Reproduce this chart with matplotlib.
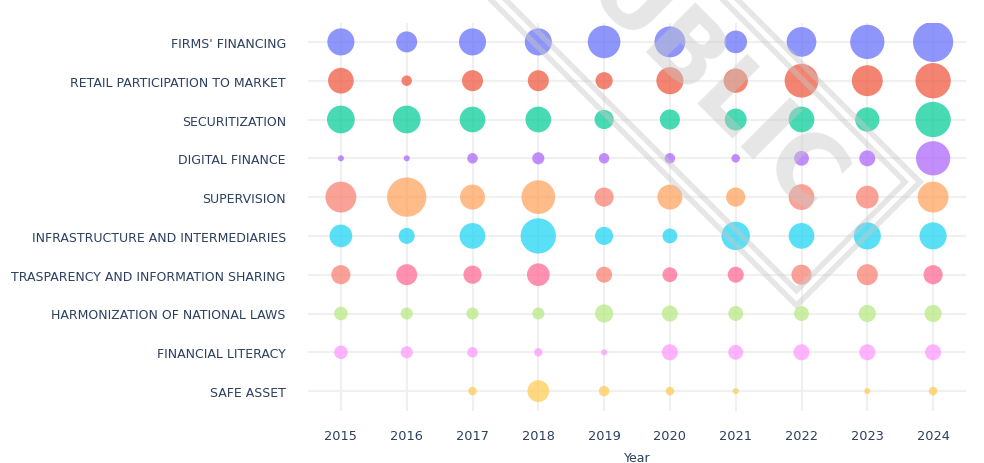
import matplotlib
matplotlib.use("Agg")
import matplotlib.pyplot as plt
import numpy as np
from matplotlib.lines import Line2D

years = [2015, 2016, 2017, 2018, 2019, 2020, 2021, 2022, 2023, 2024]
categories = [
    "FIRMS' FINANCING",
    "RETAIL PARTICIPATION TO MARKET",
    "SECURITIZATION",
    "DIGITAL FINANCE",
    "SUPERVISION",
    "INFRASTRUCTURE AND INTERMEDIARIES",
    "TRASPARENCY AND INFORMATION SHARING",
    "HARMONIZATION OF NATIONAL LAWS",
    "FINANCIAL LITERACY",
    "SAFE ASSET",
]

firms_financing = [20, 12, 20, 20, 29, 26, 14, 24, 32, 44]
retail_participation = [18, 3, 12, 12, 8, 20, 16, 31, 26, 34]
securitization = [21, 21, 18, 18, 10, 11, 13, 18, 16, 34]
digital_finance = [1, 1, 3, 4, 3, 3, 2, 6, 7, 32]
supervision = [26, 42, 17, 31, 10, 17, 10, 18, 14, 26]
infrastructure = [14, 7, 18, 34, 9, 6, 22, 18, 20, 20]
trasparency = [10, 12, 9, 14, 7, 6, 7, 11, 12, 10]
harmonization = [5, 4, 4, 4, 9, 7, 6, 6, 8, 8]
financial_literacy = [5, 4, 3, 2, 1, 7, 6, 7, 7, 7]
safe_asset = [0, 0, 2, 13, 3, 2, 1, 0, 1, 2]

series = [firms_financing, retail_participation, securitization, digital_finance,
          supervision, infrastructure, trasparency, harmonization,
          financial_literacy, safe_asset]

SAL = "#FA7F70"
row_colors = [
    ["#636EFA"] * 10,
    ["#EF553B"] * 10,
    ["#00CC96"] * 10,
    ["#AB63FA"] * 10,
    [SAL, "#FFA15A", "#FFA15A", "#FFA15A", SAL, "#FFA15A", "#FFA15A", SAL, SAL, "#FFA15A"],
    ["#19D3F3"] * 10,
    [SAL, "#FF6692", "#FF6692", "#FF6692", SAL, "#FF6692", "#FF6692", SAL, SAL, "#FF6692"],
    ["#B6E880"] * 10,
    ["#FF97FF"] * 10,
    ["#FECB52"] * 10,
]

W, H = 984, 464
fig = plt.figure(figsize=(W / 100, H / 100), dpi=100)
fig.patch.set_facecolor("white")
ax = fig.add_axes([308 / W, 1 - 411.5 / H, 658 / W, (411.5 - 23.5) / H])
ax.set_facecolor("white")

size_scale = 19.0  # points^2 per unit
for i, vals in enumerate(series):
    v = np.array(vals, dtype=float)
    m = v > 0
    ax.scatter(np.array(years)[m], np.full(m.sum(), i), s=v[m] * size_scale,
               c=np.array(row_colors[i])[m], alpha=0.72, linewidths=0, zorder=3)

ax.set_xlim(2014.5, 2024.5)
ax.set_ylim(len(categories) - 0.5, -0.5)
ax.set_xticks(years)
ax.set_xticklabels([str(y) for y in years])
ax.set_yticks(range(len(categories)))
ax.set_yticklabels(categories)
for s in ax.spines.values():
    s.set_visible(False)
ax.grid(True, color="#f0f0f0", linewidth=1.5, zorder=0)
ax.set_axisbelow(True)
ax.tick_params(axis="both", length=0, colors="#2a3f5f")
ax.tick_params(axis="y", pad=16, labelsize=9.0)
ax.tick_params(axis="x", pad=13, labelsize=9.3)
ax.set_xlabel("Year", color="#2a3f5f", fontsize=9, labelpad=7)

# watermark
def fx(x):
    return x / W

def fy(y):
    return 1 - y / H

wm_col = "#c8c8c8"
fig.text(fx(688), fy(66), "PUBLIC", rotation=-45, fontsize=69, fontweight="bold",
         color=wm_col, alpha=0.45, ha="center", va="center", zorder=20,
         rotation_mode="anchor")
outer = [(490 - 20, -20), (796.5, 306.5), (920, 183), (737 - 20, -20)]
inner = [(505 - 20, -20), (796.5, 291.5), (905, 183), (722 - 20, -20)]
for poly in (outer, inner):
    xs = [fx(p[0]) for p in poly]
    ys = [fy(p[1]) for p in poly]
    fig.add_artist(Line2D(xs, ys, transform=fig.transFigure, color=wm_col,
                          alpha=0.45, linewidth=4, zorder=20,
                          solid_joinstyle="miter"))

fig.savefig("out.png", dpi=100)
